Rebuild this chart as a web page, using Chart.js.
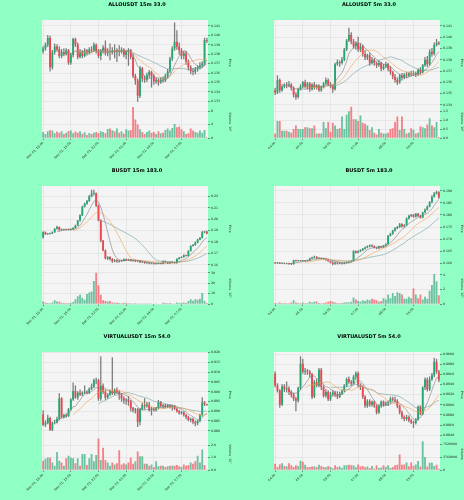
<!DOCTYPE html>
<html>
<head>
<meta charset="utf-8">
<script src="https://cdn.jsdelivr.net/npm/chart.js@4.4.1/dist/chart.umd.min.js"></script>
<style>
html, body { margin: 0; padding: 0; background: #8fffc4; }
#wrap { position: relative; width: 464px; height: 500px; }
.cell { position: absolute; width: 232px; height: 166px; }
</style>
</head>
<body>
<div id="wrap">
  <div class="cell" style="left:0;top:0"><canvas id="c1" width="232" height="166"></canvas></div>
  <div class="cell" style="left:232px;top:0"><canvas id="c2" width="232" height="166"></canvas></div>
  <div class="cell" style="left:0;top:166px"><canvas id="c3" width="232" height="166"></canvas></div>
  <div class="cell" style="left:232px;top:166px"><canvas id="c4" width="232" height="166"></canvas></div>
  <div class="cell" style="left:0;top:332px"><canvas id="c5" width="232" height="166"></canvas></div>
  <div class="cell" style="left:232px;top:332px"><canvas id="c6" width="232" height="166"></canvas></div>
</div>
<script>
// tick labels (one every 12 candles)
const ticks15m = ['Dec 01, 16:00', 'Dec 01, 19:00', 'Dec 01, 22:00', 'Dec 02, 01:00', 'Dec 02, 04:00', 'Dec 02, 07:00'];
const ticks5m = ['04:00', '05:00', '06:00', '07:00', '08:00', '09:00'];

// ALLOUSDT 15m
const allo15Open = [.1383,.1386,.1390,.1397,.1366,.1382,.1388,.1385,.1378,.1382,.1380,.1384,.1371,.1379,.1396,.1390,.1377,.1382,.1378,.1383,.1381,.1385,.1384,.1390,.1383,.1378,.1383,.1387,.1381,.1383,.1382,.1384,.1382,.1384,.1383,.1385,.1379,.1383,.1384,.1377,.1357,.1352,.1336,.1365,.1354,.1353,.1358,.1361,.1357,.1351,.1353,.1350,.1353,.1352,.1357,.1362,.1375,.1386,.1393,.1388,.1384,.1378,.1381,.1372,.1366,.1362,.1361,.1364,.1366,.1368,.1370,.1395];
const allo15Close = [.1386,.1390,.1397,.1366,.1382,.1388,.1385,.1378,.1382,.1380,.1384,.1371,.1379,.1396,.1390,.1377,.1382,.1378,.1383,.1381,.1385,.1384,.1390,.1383,.1378,.1383,.1387,.1381,.1383,.1382,.1384,.1382,.1384,.1383,.1385,.1379,.1383,.1384,.1377,.1357,.1352,.1336,.1365,.1354,.1353,.1358,.1361,.1357,.1351,.1353,.1350,.1353,.1352,.1357,.1362,.1375,.1386,.1393,.1388,.1384,.1378,.1381,.1372,.1366,.1362,.1361,.1364,.1366,.1368,.1370,.1395,.1394];
const allo15High = [.1388,.1392,.1400,.1399,.1384,.1391,.1390,.1388,.1385,.1386,.1386,.1385,.1381,.1397,.1397,.1392,.1385,.1384,.1386,.1385,.1387,.1388,.1392,.1391,.1385,.1385,.1389,.1394,.1386,.1391,.1387,.1390,.1386,.1389,.1387,.1386,.1384,.1386,.1385,.1380,.1359,.1354,.1367,.1366,.1357,.1360,.1363,.1362,.1359,.1355,.1354,.1355,.1356,.1359,.1364,.1377,.1388,.1413,.1405,.1392,.1386,.1383,.1383,.1374,.1368,.1365,.1366,.1368,.1371,.1372,.1397,.1397];
const allo15Low = [.1381,.1384,.1388,.1362,.1364,.1380,.1383,.1376,.1376,.1378,.1379,.1369,.1369,.1377,.1388,.1375,.1376,.1376,.1377,.1379,.1380,.1382,.1383,.1381,.1376,.1374,.1381,.1379,.1378,.1374,.1380,.1376,.1372,.1378,.1381,.1377,.1375,.1368,.1375,.1355,.1348,.1330,.1334,.1351,.1350,.1351,.1355,.1345,.1348,.1349,.1347,.1349,.1350,.1351,.1355,.1360,.1373,.1384,.1385,.1380,.1375,.1375,.1369,.1363,.1359,.1358,.1359,.1362,.1364,.1366,.1368,.1392];
const allo15Vol = [1.8,1.2,2.0,2.3,2.2,1.4,1.9,1.6,2.0,1.2,1.6,2.1,2.2,1.4,1.9,1.6,2.0,1.3,1.7,0.9,1.5,1.2,1.6,1.8,1.4,2.0,1.8,1.4,2.7,2.8,2.3,2.0,2.8,1.6,2.0,1.3,2.6,2.2,2.4,9.2,5.5,4.0,2.6,1.8,1.2,1.8,2.2,1.6,1.8,1.2,2.0,1.4,1.6,2.4,2.8,2.2,3.0,4.2,3.2,3.4,2.6,2.0,1.2,1.4,2.8,2.2,1.8,1.6,2.2,1.6,2.4,0.2];

// ALLOUSDT 5m
const allo5Open = [.1353,.1351,.1362,.1353,.1356,.1358,.1357,.1358,.1355,.1349,.1347,.1354,.1356,.1360,.1356,.1359,.1354,.1358,.1355,.1357,.1353,.1356,.1359,.1362,.1358,.1357,.1354,.1376,.1378,.1377,.1380,.1389,.1397,.1402,.1396,.1392,.1395,.1389,.1392,.1385,.1382,.1384,.1377,.1380,.1377,.1375,.1377,.1372,.1374,.1376,.1372,.1369,.1365,.1362,.1360,.1366,.1364,.1367,.1366,.1368,.1367,.1368,.1367,.1371,.1369,.1375,.1380,.1376,.1387,.1385,.1393,.1395];
const allo5Close = [.1351,.1362,.1353,.1356,.1358,.1357,.1358,.1355,.1349,.1347,.1354,.1356,.1360,.1356,.1359,.1354,.1358,.1355,.1357,.1353,.1356,.1359,.1362,.1358,.1357,.1354,.1376,.1378,.1377,.1380,.1389,.1397,.1402,.1396,.1392,.1395,.1389,.1392,.1385,.1382,.1384,.1377,.1380,.1377,.1375,.1377,.1372,.1374,.1376,.1372,.1369,.1365,.1362,.1360,.1366,.1364,.1367,.1366,.1368,.1367,.1368,.1367,.1371,.1369,.1375,.1380,.1376,.1387,.1385,.1393,.1395,.1394];
const allo5High = [.1355,.1366,.1363,.1358,.1359,.1360,.1361,.1359,.1356,.1351,.1355,.1358,.1361,.1362,.1360,.1360,.1359,.1360,.1358,.1358,.1357,.1360,.1364,.1363,.1360,.1358,.1377,.1380,.1379,.1382,.1390,.1398,.1408,.1404,.1398,.1396,.1400,.1394,.1393,.1388,.1385,.1386,.1382,.1381,.1378,.1379,.1378,.1376,.1378,.1377,.1374,.1370,.1367,.1364,.1367,.1368,.1368,.1369,.1369,.1370,.1370,.1369,.1372,.1373,.1376,.1382,.1383,.1389,.1390,.1395,.1398,.1396];
const allo5Low = [.1349,.1350,.1351,.1352,.1355,.1355,.1356,.1353,.1347,.1345,.1346,.1353,.1355,.1355,.1354,.1352,.1353,.1354,.1354,.1352,.1352,.1355,.1358,.1357,.1355,.1351,.1353,.1375,.1374,.1376,.1379,.1388,.1396,.1394,.1390,.1389,.1387,.1387,.1383,.1380,.1380,.1375,.1376,.1375,.1373,.1374,.1370,.1371,.1373,.1370,.1367,.1363,.1360,.1358,.1359,.1362,.1363,.1364,.1365,.1366,.1366,.1365,.1366,.1367,.1368,.1374,.1374,.1375,.1383,.1384,.1392,.1393];
const allo5Vol = [0.25,0.95,0.95,0.4,0.4,0.4,0.35,0.3,0.5,0.7,0.5,0.5,0.5,0.6,0.6,0.55,0.55,0.7,0.25,0.25,0.25,0.9,0.55,0.9,0.35,0.85,0.7,0.5,0.55,1.2,0.5,1.3,1.5,1.74,1.05,1.05,0.95,1.25,0.85,0.8,0.7,0.45,0.6,0.3,0.2,0.5,0.3,0.25,0.25,0.3,0.5,0.55,0.9,1.2,0.45,1.2,0.5,0.25,0.3,0.55,0.45,0.25,0.3,0.65,0.6,0.55,0.75,1.1,0.7,0.6,0.9,0.05];

// BUSDT 15m
const b15Open = [.1840,.1885,.1868,.1872,.1875,.1885,.1915,.1930,.1905,.1910,.1906,.1910,.1905,.1912,.1922,.1945,.1985,.2035,.2110,.2135,.2160,.2200,.2225,.2228,.2120,.1990,.1810,.1725,.1655,.1668,.1650,.1630,.1640,.1628,.1635,.1632,.1648,.1640,.1646,.1635,.1638,.1630,.1634,.1622,.1625,.1615,.1617,.1610,.1612,.1608,.1610,.1612,.1609,.1630,.1622,.1612,.1625,.1618,.1614,.1650,.1662,.1668,.1682,.1677,.1720,.1765,.1772,.1795,.1820,.1835,.1885,.1892];
const b15Close = [.1885,.1868,.1872,.1875,.1885,.1915,.1930,.1905,.1910,.1906,.1910,.1905,.1912,.1922,.1945,.1985,.2035,.2110,.2135,.2160,.2200,.2225,.2228,.2120,.1990,.1810,.1725,.1655,.1668,.1650,.1630,.1640,.1628,.1635,.1632,.1648,.1640,.1646,.1635,.1638,.1630,.1634,.1622,.1625,.1615,.1617,.1610,.1612,.1608,.1610,.1612,.1609,.1630,.1622,.1612,.1625,.1618,.1614,.1650,.1662,.1668,.1682,.1677,.1720,.1765,.1772,.1795,.1820,.1835,.1885,.1892,.1875];
const b15High = [.1890,.1888,.1875,.1878,.1888,.1918,.1940,.1932,.1914,.1913,.1913,.1912,.1915,.1925,.1948,.1990,.2040,.2115,.2140,.2165,.2210,.2255,.2255,.2230,.2125,.1995,.1815,.1730,.1672,.1672,.1655,.1645,.1645,.1640,.1638,.1652,.1652,.1650,.1648,.1642,.1642,.1638,.1636,.1628,.1627,.1620,.1620,.1615,.1614,.1613,.1615,.1614,.1633,.1633,.1625,.1628,.1627,.1620,.1653,.1665,.1672,.1686,.1685,.1723,.1768,.1778,.1800,.1825,.1840,.1892,.1895,.1895];
const b15Low = [.1832,.1865,.1865,.1868,.1872,.1883,.1912,.1902,.1903,.1904,.1904,.1903,.1903,.1910,.1920,.1942,.1983,.2030,.2105,.2130,.2155,.2195,.2210,.2110,.1985,.1800,.1720,.1650,.1645,.1640,.1620,.1625,.1620,.1622,.1626,.1630,.1635,.1636,.1630,.1632,.1626,.1627,.1618,.1618,.1612,.1612,.1606,.1607,.1605,.1605,.1607,.1606,.1607,.1619,.1608,.1610,.1615,.1611,.1612,.1648,.1660,.1665,.1674,.1675,.1718,.1762,.1770,.1792,.1818,.1832,.1880,.1870];
const b15Vol = [2.5,1.2,1.0,0.8,1.5,3.5,2.5,2.2,1.2,1.0,0.8,0.9,1.2,2.0,4.5,7.5,9.0,6.0,4.0,9.5,11.0,12.0,22.0,30.0,18.0,9.0,3.5,3.0,2.5,3.0,1.5,1.2,1.5,1.0,0.8,1.2,0.9,0.7,0.8,0.6,0.7,0.5,0.6,0.5,0.6,0.4,0.5,0.4,0.3,0.4,0.3,0.3,1.2,1.0,0.8,1.0,0.6,0.5,1.5,1.0,1.2,1.5,1.0,3.0,4.5,3.2,4.5,4.0,5.0,10.5,3.0,1.0];

// BUSDT 5m
const b5Open = [.1602,.1601,.1602,.1600,.1601,.1599,.1600,.1598,.1597,.1613,.1610,.1612,.1610,.1611,.1610,.1612,.1620,.1624,.1627,.1620,.1622,.1619,.1618,.1614,.1610,.1604,.1598,.1603,.1600,.1602,.1599,.1603,.1604,.1607,.1610,.1650,.1644,.1650,.1655,.1660,.1666,.1670,.1675,.1671,.1665,.1662,.1670,.1666,.1674,.1680,.1714,.1722,.1735,.1745,.1750,.1762,.1752,.1758,.1785,.1796,.1800,.1793,.1805,.1796,.1790,.1810,.1822,.1835,.1852,.1875,.1888,.1894];
const b5Close = [.1601,.1602,.1600,.1601,.1599,.1600,.1598,.1597,.1613,.1610,.1612,.1610,.1611,.1610,.1612,.1620,.1624,.1627,.1620,.1622,.1619,.1618,.1614,.1610,.1604,.1598,.1603,.1600,.1602,.1599,.1603,.1604,.1607,.1610,.1650,.1644,.1650,.1655,.1660,.1666,.1670,.1675,.1671,.1665,.1662,.1670,.1666,.1674,.1680,.1714,.1722,.1735,.1745,.1750,.1762,.1752,.1758,.1785,.1796,.1800,.1793,.1805,.1796,.1790,.1810,.1822,.1835,.1852,.1875,.1888,.1894,.1872];
const b5High = [.1603,.1604,.1603,.1602,.1602,.1601,.1601,.1600,.1614,.1614,.1613,.1613,.1613,.1612,.1614,.1622,.1626,.1630,.1628,.1624,.1623,.1621,.1619,.1616,.1611,.1606,.1605,.1604,.1604,.1603,.1604,.1606,.1608,.1612,.1653,.1652,.1652,.1657,.1662,.1668,.1672,.1677,.1677,.1673,.1667,.1671,.1671,.1675,.1682,.1716,.1725,.1738,.1748,.1753,.1765,.1764,.1760,.1788,.1799,.1803,.1803,.1807,.1807,.1798,.1812,.1825,.1838,.1855,.1880,.1893,.1899,.1897];
const b5Low = [.1600,.1600,.1599,.1599,.1598,.1598,.1596,.1595,.1596,.1608,.1609,.1609,.1609,.1608,.1609,.1611,.1618,.1622,.1618,.1618,.1617,.1616,.1612,.1608,.1602,.1594,.1596,.1597,.1598,.1597,.1598,.1601,.1603,.1606,.1609,.1642,.1643,.1648,.1653,.1658,.1664,.1668,.1669,.1663,.1660,.1661,.1664,.1665,.1672,.1678,.1712,.1720,.1733,.1742,.1748,.1750,.1750,.1756,.1783,.1793,.1790,.1791,.1794,.1787,.1788,.1808,.1820,.1833,.1850,.1873,.1886,.1868];
const b5Vol = [0.15,0.1,0.2,0.1,0.15,0.1,0.1,0.2,0.5,0.2,0.15,0.1,0.2,0.1,0.15,0.3,0.2,0.3,0.35,0.15,0.1,0.15,0.2,0.3,0.4,0.3,0.2,0.15,0.1,0.15,0.2,0.25,0.2,0.3,0.9,0.6,0.4,0.3,0.5,0.4,0.6,0.5,0.7,0.6,0.5,0.3,0.4,0.8,0.6,1.3,0.8,1.5,1.1,1.6,1.5,1.3,0.7,0.7,1.0,0.8,2.1,1.3,0.8,1.3,0.6,1.0,0.7,1.8,2.6,4.1,3.1,1.2];

// VIRTUALUSDT 15m
const v15Open = [.8883,.8831,.8840,.8865,.8805,.8840,.8843,.8860,.8966,.8870,.8880,.8875,.8910,.8960,.9003,.8970,.8995,.8985,.8995,.9000,.8995,.9015,.9025,.9058,.9060,.8965,.9030,.9000,.8970,.8985,.9005,.8990,.9010,.9000,.8985,.8965,.8955,.8960,.8950,.8915,.8905,.8910,.8845,.8910,.8930,.8925,.8935,.8905,.8910,.8905,.8915,.8947,.8925,.8930,.8922,.8930,.8920,.8928,.8912,.8900,.8890,.8895,.8880,.8870,.8855,.8860,.8845,.8838,.8850,.8880,.8945,.8935];
const v15Close = [.8831,.8840,.8865,.8805,.8840,.8843,.8860,.8966,.8870,.8880,.8875,.8910,.8960,.9003,.8970,.8995,.8985,.8995,.9000,.8995,.9015,.9025,.9058,.9060,.8965,.9030,.9000,.8970,.8985,.9005,.8990,.9010,.9000,.8985,.8965,.8955,.8960,.8950,.8915,.8905,.8910,.8845,.8910,.8930,.8925,.8935,.8905,.8910,.8905,.8915,.8947,.8925,.8930,.8922,.8930,.8920,.8928,.8912,.8900,.8890,.8895,.8880,.8870,.8855,.8860,.8845,.8838,.8850,.8880,.8945,.8935,.8932];
const v15High = [.8903,.8850,.8880,.8870,.8845,.8855,.8870,.8990,.8970,.8885,.8888,.8915,.8965,.9045,.9030,.9000,.9010,.9000,.9030,.9005,.9020,.9040,.9065,.9070,.9065,.9180,.9040,.9010,.8990,.9010,.9175,.9015,.9020,.9005,.8990,.8975,.8965,.8975,.8955,.8920,.8915,.8915,.8915,.8940,.8965,.8945,.8945,.8920,.8915,.8920,.8955,.8950,.8935,.8935,.8935,.8935,.8932,.8930,.8915,.8905,.8900,.8898,.8885,.8875,.8865,.8865,.8850,.8855,.8885,.8970,.8950,.8937];
const v15Low = [.8826,.8820,.8835,.8800,.8800,.8835,.8838,.8855,.8865,.8865,.8868,.8872,.8905,.8955,.8965,.8960,.8980,.8980,.8990,.8988,.8990,.9010,.9020,.9040,.8955,.8955,.8990,.8960,.8965,.8980,.8985,.8985,.8990,.8960,.8950,.8940,.8935,.8930,.8900,.8895,.8890,.8820,.8830,.8905,.8910,.8920,.8900,.8880,.8900,.8900,.8910,.8920,.8915,.8915,.8918,.8915,.8905,.8908,.8895,.8885,.8885,.8875,.8860,.8850,.8845,.8835,.8825,.8830,.8845,.8875,.8928,.8930];
const v15Vol = [0.75,0.9,1.0,1.0,0.6,0.35,1.45,0.75,0.6,0.35,0.95,1.15,1.0,0.95,0.55,0.95,0.35,1.3,1.3,0.4,0.95,1.3,0.7,1.2,2.55,0.8,1.8,0.8,0.6,0.35,0.6,0.45,0.55,1.6,0.45,0.55,0.45,0.6,1.0,0.5,0.7,1.5,1.1,1.1,0.5,0.5,0.35,0.45,0.25,0.7,0.3,0.35,0.35,0.25,0.3,0.35,0.35,0.35,0.4,0.3,0.25,0.45,0.35,0.4,0.6,0.5,0.7,1.15,0.6,1.65,0.4,0.05];

// VIRTUALUSDT 5m
const v5Open = [.8961,.8938,.8928,.8900,.8936,.8930,.8932,.8925,.8920,.8912,.8908,.8933,.8981,.8965,.8967,.8965,.8960,.8916,.8945,.8938,.8969,.8935,.8918,.8925,.8911,.8920,.8924,.8920,.8916,.8922,.8928,.8938,.8951,.8945,.8942,.8955,.8962,.8938,.8935,.8916,.8898,.8907,.8900,.8906,.8898,.8885,.8898,.8906,.8900,.8903,.8905,.8912,.8910,.8908,.8897,.8885,.8876,.8872,.8876,.8869,.8865,.8864,.8871,.8896,.8882,.8934,.8950,.8930,.8950,.8958,.8985,.8965];
const v5Close = [.8938,.8928,.8900,.8936,.8930,.8932,.8925,.8920,.8912,.8908,.8933,.8981,.8965,.8967,.8965,.8960,.8916,.8945,.8938,.8969,.8935,.8918,.8925,.8911,.8920,.8924,.8920,.8916,.8922,.8928,.8938,.8951,.8945,.8942,.8955,.8962,.8938,.8935,.8916,.8898,.8907,.8900,.8906,.8898,.8885,.8898,.8906,.8900,.8903,.8905,.8912,.8910,.8908,.8897,.8885,.8876,.8872,.8876,.8869,.8865,.8864,.8871,.8896,.8882,.8934,.8950,.8930,.8950,.8958,.8985,.8965,.8949];
const v5High = [.8965,.8942,.8930,.8940,.8940,.8945,.8936,.8928,.8923,.8915,.8935,.8995,.8990,.8972,.8970,.8968,.8962,.8948,.8950,.8972,.8972,.8938,.8930,.8928,.8925,.8928,.8927,.8926,.8925,.8930,.8940,.8953,.8955,.8948,.8958,.8965,.8965,.8942,.8938,.8918,.8910,.8910,.8908,.8908,.8900,.8900,.8908,.8908,.8906,.8908,.8915,.8915,.8915,.8910,.8899,.8888,.8878,.8879,.8878,.8872,.8868,.8873,.8898,.8898,.8936,.8953,.8953,.8955,.8962,.8992,.8990,.8968];
const v5Low = [.8935,.8925,.8895,.8898,.8926,.8925,.8920,.8915,.8908,.8888,.8905,.8930,.8962,.8960,.8960,.8955,.8912,.8914,.8935,.8935,.8930,.8915,.8915,.8908,.8908,.8917,.8916,.8912,.8914,.8920,.8926,.8936,.8942,.8938,.8940,.8950,.8935,.8930,.8912,.8895,.8895,.8897,.8897,.8895,.8882,.8883,.8895,.8897,.8898,.8898,.8903,.8907,.8905,.8894,.8882,.8872,.8868,.8869,.8866,.8863,.8855,.8862,.8869,.8880,.8880,.8930,.8927,.8928,.8948,.8955,.8962,.8945];
const v5Vol = [1800000,900000,1600000,2000000,1200000,1100000,2000000,1400000,900000,1400000,1200000,2700000,2400000,1500000,900000,900000,1000000,1100000,900000,1500000,1200000,900000,800000,1200000,900000,500000,1400000,900000,1000000,600000,1400000,1400000,1500000,1400000,1400000,800000,1600000,1000000,1200000,800000,1000000,600000,1200000,400000,1400000,600000,700000,1400000,900000,1400000,600000,900000,1400000,1500000,4500000,1500000,1600000,2200000,1100000,2200000,1200000,1600000,2600000,1000000,8400000,3800000,1000000,2100000,2100000,1200000,1500000,400000];

const UP = '#1fa971', DOWN = '#f2434f';
const UP_V = 'rgba(31,169,113,0.65)', DOWN_V = 'rgba(242,67,79,0.65)';
const MA_COLORS = ['#7d7d7d', '#f5a14f', '#6e9fa0'];
const GRID = '#dedede';

Chart.defaults.font.family = 'DejaVu Sans';
Chart.defaults.color = '#222';

const panelBg = {
  id: 'panelBg',
  beforeDraw(chart) {
    const a = chart.chartArea, c = chart.ctx;
    c.save();
    c.fillStyle = '#f4f4f4';
    c.fillRect(a.left, a.top, a.right - a.left, a.bottom - a.top);
    c.restore();
  }
};

function sma(vals, n) {
  return vals.map((v, i) => i < n - 1 ? null : vals.slice(i - n + 1, i + 1).reduce((a, b) => a + b, 0) / n);
}

function drawCandles(id, title, tickLabels, open, high, low, close, vol, p) {
  const up = close.map((c, i) => c >= open[i]);
  const lines = [7, 14, 25].map((n, k) => ({
    type: 'line', data: sma(close, n), borderColor: MA_COLORS[k], borderWidth: 0.6,
    pointRadius: 0, yAxisID: 'y', order: 0
  }));
  new Chart(document.getElementById(id), {
    type: 'bar',
    data: {
      labels: close.map((_, i) => i),
      datasets: [
        ...lines,
        { data: open.map((o, i) => [o, close[i]]), backgroundColor: up.map(u => u ? UP : DOWN),
          barPercentage: 0.8, categoryPercentage: 1, grouped: false, minBarLength: 0.7, yAxisID: 'y', order: 2 },
        { data: low.map((l, i) => [l, high[i]]), backgroundColor: '#7a7a7a',
          barThickness: 0.6, grouped: false, yAxisID: 'y', order: 3 },
        { data: vol, backgroundColor: up.map(u => u ? UP_V : DOWN_V),
          barPercentage: 0.8, categoryPercentage: 1, grouped: false, yAxisID: 'yv', order: 2 }
      ]
    },
    plugins: [panelBg],
    options: {
      responsive: false,
      animation: false,
      events: [],
      layout: { padding: { left: 42, top: 0, right: 0, bottom: 0 } },
      plugins: {
        legend: { display: false },
        tooltip: { enabled: false },
        title: { display: true, text: title, color: '#000', font: { size: 5, weight: 'bold' }, padding: { top: 2, bottom: 12 } }
      },
      scales: {
        x: {
          type: 'category', offset: true,
          border: { display: false },
          grid: { offset: false, lineWidth: 0.6, tickLength: 2,
            color: c => c.index % 12 === 0 ? GRID : 'rgba(0,0,0,0)',
            tickColor: c => c.index % 12 === 0 ? '#444' : 'rgba(0,0,0,0)' },
          ticks: { autoSkip: false, maxRotation: 45, minRotation: 45, padding: 1, font: { size: 3.2 },
            callback: (v, i) => i % 12 === 0 ? tickLabels[i / 12] : '' },
          afterFit: s => { s.height = 28; }
        },
        y: {
          position: 'right', stack: 'panels', stackWeight: 2.66,
          min: p.min, max: p.max,
          border: { display: false },
          grid: { color: GRID, lineWidth: 0.6, tickLength: 2, tickColor: '#444' },
          ticks: { stepSize: p.step, includeBounds: false, padding: 1, font: { size: 3.2 },
            callback: v => v.toFixed(p.dec) },
          title: { display: true, text: 'Price', font: { size: 3.2 }, padding: 0 },
          afterFit: s => { s.width = 24; }
        },
        yv: {
          position: 'right', stack: 'panels', stackWeight: 1,
          min: 0, max: p.vmax,
          border: { display: false },
          grid: { color: GRID, lineWidth: 0.6, tickLength: 2, tickColor: '#444' },
          ticks: { stepSize: p.vstep, includeBounds: false, padding: 1, font: { size: 3.2 },
            callback: v => v.toFixed(p.vdec) },
          title: { display: true, text: p.vlabel, font: { size: 3.2 }, padding: 0 },
          afterFit: s => { s.width = 24; }
        }
      }
    }
  });
}

drawCandles('c1', 'ALLOUSDT 15m 33.0', ticks15m, allo15Open, allo15High, allo15Low, allo15Close, allo15Vol,
  { min: 0.13254, max: 0.14161, step: 0.001, dec: 3, vmax: 9.6, vstep: 2, vdec: 0, vlabel: 'Volume  10⁶' });
drawCandles('c2', 'ALLOUSDT 5m 33.0', ticks5m, allo5Open, allo5High, allo5Low, allo5Close, allo5Vol,
  { min: 0.13393, max: 0.14151, step: 0.001, dec: 3, vmax: 1.8, vstep: 0.5, vdec: 1, vlabel: 'Volume  10⁶' });
drawCandles('c3', 'BUSDT 15m 183.0', ticks15m, b15Open, b15High, b15Low, b15Close, b15Vol,
  { min: 0.1538, max: 0.2291, step: 0.01, dec: 2, vmax: 31, vstep: 10, vdec: 0, vlabel: 'Volume  10⁶' });
drawCandles('c4', 'BUSDT 5m 183.0', ticks5m, b5Open, b5High, b5Low, b5Close, b5Vol,
  { min: 0.15654, max: 0.19196, step: 0.005, dec: 3, vmax: 4.4, vstep: 1, vdec: 0, vlabel: 'Volume  10⁶' });
drawCandles('c5', 'VIRTUALUSDT 15m 54.0', ticks15m, v15Open, v15High, v15Low, v15Close, v15Vol,
  { min: 0.87638, max: 0.92033, step: 0.005, dec: 3, vmax: 2.6, vstep: 0.5, vdec: 1, vlabel: 'Volume  10⁷' });
drawCandles('c6', 'VIRTUALUSDT 5m 54.0', ticks5m, v5Open, v5High, v5Low, v5Close, v5Vol,
  { min: 0.8835, max: 0.9004, step: 0.002, dec: 4, vmax: 9400000, vstep: 2000000, vdec: 0, vlabel: 'Volume' });
</script>
</body>
</html>
